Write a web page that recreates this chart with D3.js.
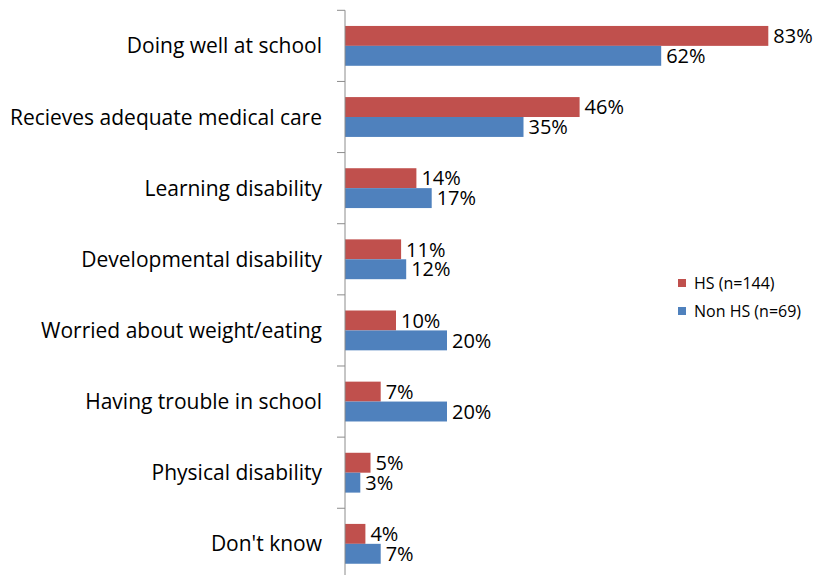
<!DOCTYPE html>
<html>
<head>
<meta charset="utf-8">
<script src="https://cdn.jsdelivr.net/npm/d3@7"></script>
<style>
  html, body { margin: 0; padding: 0; background: #fff; }
  svg { display: block; }
  text { font-family: "Open Sans", Lato, sans-serif; fill: #000; }
</style>
</head>
<body>
<svg id="chart" width="819" height="575"></svg>
<script>
// Survey responses, share of respondents per item
const categories = [
  "Doing well at school",
  "Recieves adequate medical care",
  "Learning disability",
  "Developmental disability",
  "Worried about weight/eating",
  "Having trouble in school",
  "Physical disability",
  "Don't know"
];
const seriesNames = ["HS (n=144)", "Non HS (n=69)"];
const hsValues    = [83, 46, 14, 11, 10, 7, 5, 4];
const nonHsValues = [62, 35, 17, 12, 20, 20, 3, 7];
const seriesColors = ["#C0504D", "#4F81BD"];

const rows = categories.map((c, i) => ({
  category: c,
  values: [
    { series: seriesNames[0], value: hsValues[i] },
    { series: seriesNames[1], value: nonHsValues[i] }
  ]
}));

const svg = d3.select("#chart");
const axisX = 345;
const plotTop = 10.3, plotBottom = 579.4;

const x = d3.scaleLinear().domain([0, 90]).range([axisX, axisX + 459]);

const y0 = d3.scaleBand()
  .domain(categories)
  .range([plotTop, plotBottom])
  .paddingInner(0.44)
  .paddingOuter(0.22);

const y1 = d3.scaleBand()
  .domain(seriesNames)
  .range([0, y0.bandwidth()]);

const color = d3.scaleOrdinal().domain(seriesNames).range(seriesColors);

// Bars
const groups = svg.append("g").selectAll("g")
  .data(rows)
  .join("g")
  .attr("transform", d => `translate(0,${y0(d.category)})`);

groups.selectAll("rect")
  .data(d => d.values)
  .join("rect")
  .attr("x", x(0))
  .attr("y", d => y1(d.series))
  .attr("width", d => x(d.value) - x(0))
  .attr("height", y1.bandwidth())
  .attr("fill", d => color(d.series));

// Value labels
groups.selectAll("text.val")
  .data(d => d.values)
  .join("text")
  .attr("class", "val")
  .attr("x", d => x(d.value) + 5)
  .attr("y", d => y1(d.series) + y1.bandwidth() / 2)
  .attr("dy", "0.36em")
  .style("font-size", "20px")
  .text(d => d.value + "%");

// Category axis (labels only; ticks drawn at band boundaries)
const axis = svg.append("g")
  .attr("transform", `translate(${axisX},0)`)
  .call(d3.axisLeft(y0).tickSize(0).tickPadding(23));
axis.select(".domain").remove();
axis.selectAll("text")
  .style("font-size", "21px")
  .style("font-family", "'Open Sans', Lato, sans-serif")
  .attr("dy", "0.36em");

const boundaries = d3.range(categories.length + 1).map(i => plotTop + i * y0.step());
svg.append("g").selectAll("line")
  .data(boundaries)
  .join("line")
  .attr("x1", axisX - 8)
  .attr("x2", axisX)
  .attr("y1", d => d)
  .attr("y2", d => d)
  .attr("stroke", "#8c8c8c")
  .attr("stroke-width", 1);

svg.append("line")
  .attr("x1", axisX).attr("x2", axisX)
  .attr("y1", plotTop).attr("y2", plotBottom)
  .attr("stroke", "#8c8c8c")
  .attr("stroke-width", 1);

// Legend
const legend = svg.append("g")
  .attr("transform", "translate(678,279)");
const items = legend.selectAll("g")
  .data(seriesNames)
  .join("g")
  .attr("transform", (d, i) => `translate(0,${i * 28})`);
items.append("rect")
  .attr("width", 8).attr("height", 8)
  .attr("fill", d => color(d));
items.append("text")
  .attr("x", 16)
  .attr("y", 4)
  .attr("dy", "0.36em")
  .style("font-size", "16px")
  .text(d => d);
</script>
</body>
</html>
